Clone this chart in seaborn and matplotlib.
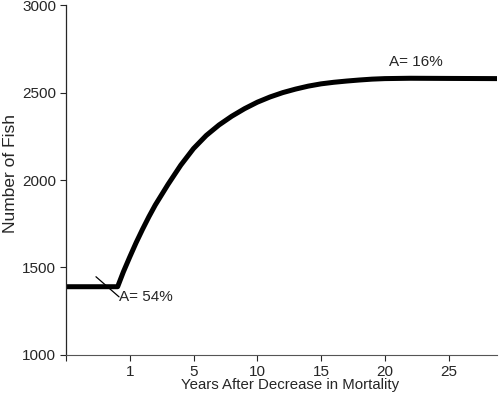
import pandas as pd
import seaborn as sns
import matplotlib
matplotlib.use('Agg')
import matplotlib.pyplot as plt

# Veri
years = [-5, -0.95, -0.5, 0, 0.5, 1, 1.5, 2, 3, 4, 5, 6, 7, 8, 9, 10,
         11, 12, 13, 14, 15, 16, 17, 18, 19, 20, 22, 25, 28.8]
fish = [1390, 1390, 1475, 1560, 1642, 1718, 1790, 1857, 1975, 2085, 2180, 2255, 2315, 2365, 2408, 2445,
        2475, 2500, 2520, 2537, 2550, 2559, 2566, 2572, 2577, 2580, 2582, 2581, 2580]
xtick_pos = [-5, 0, 5, 10, 15, 20, 25]
xtick_labels = ["", "1", "5", "10", "15", "20", "25"]
yticks = [1000, 1500, 2000, 2500, 3000]

df = pd.DataFrame({"Years": years, "Fish": fish})

sns.set_style("ticks")
plt.rcParams['font.family'] = ['Liberation Sans', 'DejaVu Sans']

fig = plt.figure(figsize=(5, 3.97), dpi=100)
ax = fig.add_axes([0.132, 0.106, 0.862, 0.881])

sns.lineplot(x="Years", y="Fish", data=df, color="black", linewidth=3.6, ax=ax)

# A= 54% etiketi ve cizgisi
ax.plot([-2.65, -0.84], [1447, 1332], color="black", linewidth=0.9)
ax.text(-0.84, 1331, "A= 54%", fontsize=11, va="center", ha="left")
ax.text(22.4, 2676, "A= 16%", fontsize=11, va="center", ha="center")

ax.set_xlim(-5, 28.8)
ax.set_ylim(1000, 3000)
ax.set_xticks(xtick_pos)
ax.set_xticklabels(xtick_labels, fontsize=11)
ax.set_yticks(yticks)
ax.set_yticklabels([str(v) for v in yticks], fontsize=11)
ax.tick_params(axis="both", length=4, width=0.8, pad=3)
ax.set_xlabel("Years After Decrease in Mortality", fontsize=10.8)
ax.set_ylabel("Number of Fish", fontsize=12.5)
ax.xaxis.set_label_coords(0.52, -0.065)
ax.yaxis.set_label_coords(-0.112, 0.52)
sns.despine(ax=ax)
ax.spines["left"].set_linewidth(0.9)
ax.spines["bottom"].set_linewidth(0.8)
ax.spines["bottom"].set_color("#555555")

fig.savefig("out.png", dpi=100)
